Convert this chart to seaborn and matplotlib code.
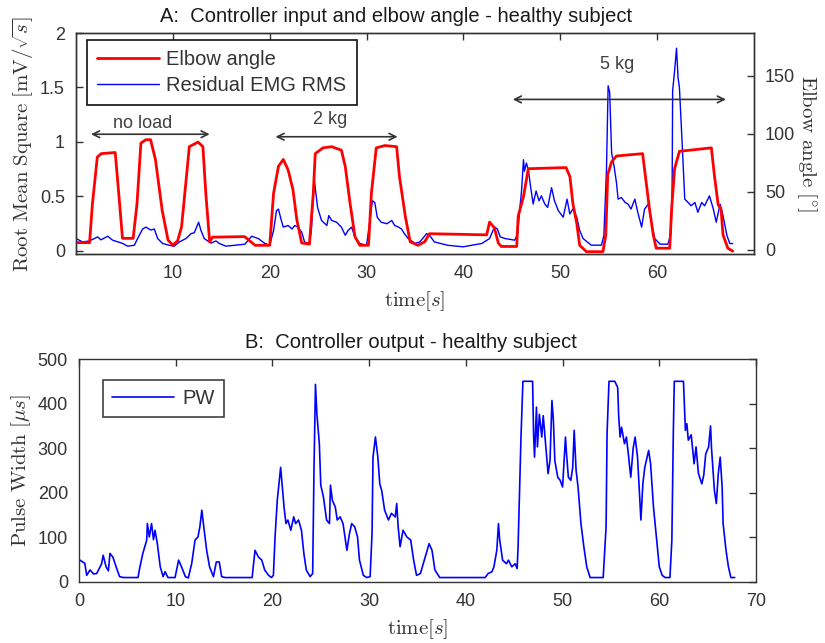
import numpy as np
import matplotlib
matplotlib.use("Agg")
import matplotlib.pyplot as plt
import seaborn as sns

# ---------------- data ----------------
t_angle = [0, 1.4, 1.7, 2.2, 2.6, 4.05, 4.4, 4.8, 5.9, 6.3, 6.7, 7.2, 7.7, 8.2, 8.9, 9.5, 10.0,
           10.5, 10.9, 11.4, 11.7, 12.6, 13.1, 13.4, 13.8, 14.1, 17.4, 18.5, 20.0, 20.4, 20.9,
           21.4, 21.9, 22.4, 22.8, 23.3, 24.1, 24.5, 24.7, 25.5, 26.4, 27.4, 27.8, 28.3, 28.8,
           29.3, 30.2, 30.5, 31.0, 31.9, 33.1, 33.4, 34.0, 34.5, 35.3, 36.0, 36.5, 42.4, 42.7,
           43.2, 43.6, 43.9, 45.5, 45.65, 46.2, 46.7, 50.6, 51.0, 51.3, 51.7, 52.0, 52.7, 54.4,
           54.7, 54.9, 55.3, 55.8, 58.5, 58.9, 59.2, 59.6, 59.9, 61.3, 61.5, 61.8, 62.3, 65.6,
           65.9, 66.3, 66.6, 66.8, 67.3, 67.8]
elbow_angle = [6.3, 6.3, 40, 80, 83, 84, 50, 10, 10, 40, 92, 95, 95, 78, 34, 8.6, 4,
               8, 20, 63, 89, 93, 89, 49, 7, 11, 11.5, 4, 4, 49, 72,
               78, 69, 52, 26, 6, 5, 49, 83, 88, 89, 86, 72, 40, 11.5,
               4, 4, 49, 88, 90, 89, 63, 29, 7, 4, 7, 14, 13, 24,
               19, 6, 3, 3, 29, 46, 70, 71, 63, 40, 23, 4, -1.5, -1.5,
               13, 65, 76, 81, 83, 56, 36, 13, 1.5, 1.5, 36, 70, 85, 88,
               65, 39, 35, 13, 1.5, -1]

t_emg = [0, 0.69, 1.38, 2.24, 2.58, 3.27, 3.78, 4.82, 5.33, 6.02, 6.36, 6.88, 7.22, 7.74, 8.08,
         8.43, 8.94, 9.63, 10.15, 10.66, 11.35, 11.87, 12.21, 12.66, 12.9, 13.24, 13.93, 14.45,
         14.79, 15.48, 17.44, 18.13, 18.82, 19.5, 20.0, 20.4, 20.7, 20.9, 21.2, 21.4, 21.9, 22.3,
         22.6, 22.9, 23.3, 23.6, 24.1, 24.3, 24.6, 24.7, 24.94, 25.35, 25.9, 26.1, 26.4, 26.9,
         27.4, 27.8, 28.1, 28.45, 28.8, 29.3, 30.0, 30.3, 30.6, 30.85, 31.1, 31.5, 32.1, 32.6,
         32.9, 33.3, 33.6, 33.9, 34.3, 35.0, 35.5, 36.2, 36.5, 37.0, 38.4, 39.97, 41.9, 42.7,
         43.2, 43.5, 43.8, 44.3, 45.3, 45.6, 45.8, 46.0, 46.2, 46.3, 46.5, 46.7, 46.95, 47.2,
         47.5, 47.8, 48.05, 48.4, 48.7, 49.1, 49.4, 49.8, 50.3, 50.7, 50.98, 51.3, 51.7, 52.0,
         52.35, 53.2, 54.25, 54.5, 54.77, 54.94, 55.1, 55.3, 55.56, 55.8, 55.97, 56.3, 56.7,
         57.0, 57.3, 57.7, 58.0, 58.4, 58.7, 59.1, 59.4, 59.75, 60.3, 61.1, 61.4, 61.54, 61.6,
         61.8, 62.0, 62.16, 62.3, 62.6, 62.85, 63.2, 63.5, 63.9, 64.2, 64.6, 64.9, 65.4, 65.8,
         66.1, 66.5, 66.8, 67.2, 67.5, 67.8]
emg_rms = [0.112, 0.081, 0.09, 0.127, 0.10, 0.133, 0.097, 0.067, 0.042, 0.05, 0.112, 0.2, 0.217,
           0.19, 0.2, 0.112, 0.067, 0.05, 0.042, 0.08, 0.112, 0.157, 0.165, 0.262, 0.187, 0.112,
           0.07, 0.09, 0.067, 0.042, 0.06, 0.133, 0.112, 0.067, 0.05, 0.187, 0.368, 0.383, 0.278,
           0.217, 0.232, 0.2, 0.232, 0.217, 0.172, 0.08, 0.067, 0.187, 0.655, 0.58, 0.398, 0.278,
           0.232, 0.323, 0.278, 0.262, 0.217, 0.142, 0.187, 0.217, 0.127, 0.067, 0.05, 0.248,
           0.459, 0.443, 0.308, 0.262, 0.248, 0.278, 0.232, 0.217, 0.2, 0.157, 0.112, 0.067,
           0.081, 0.157, 0.142, 0.081, 0.05, 0.036, 0.067, 0.112, 0.217, 0.2, 0.127, 0.112,
           0.097, 0.157, 0.368, 0.549, 0.836, 0.73, 0.806, 0.745, 0.579, 0.429, 0.549, 0.459,
           0.504, 0.429, 0.398, 0.579, 0.459, 0.368, 0.308, 0.474, 0.338, 0.383, 0.308, 0.187,
           0.112, 0.051, 0.051, 0.142, 0.745, 1.515, 1.454, 0.896, 0.775, 0.624, 0.474, 0.489,
           0.443, 0.428, 0.383, 0.474, 0.353, 0.217, 0.383, 0.428, 0.262, 0.112, 0.06, 0.06,
           0.142, 0.443, 1.47, 1.65, 1.86, 1.59, 1.5, 0.956, 0.474, 0.443, 0.413, 0.443, 0.353,
           0.443, 0.413, 0.504, 0.383, 0.262, 0.428, 0.323, 0.142, 0.066, 0.066]

t_pw = [0, 0.1, 0.6, 0.8, 1.14, 1.5, 1.83, 2.34, 2.5, 2.8, 3.04, 3.2, 3.5, 3.9, 4.2, 4.6, 6.1,
        6.3, 6.6, 7.0, 7.07, 7.27, 7.5, 7.7, 7.86, 8.1, 8.4, 8.7, 8.9, 9.2, 9.93, 10.3, 10.6,
        11.0, 11.3, 11.65, 12.0, 12.3, 12.5, 12.7, 12.9, 13.2, 13.5, 13.9, 14.2, 14.5, 14.75,
        15.1, 17.9, 18.2, 18.55, 18.9, 19.2, 19.6, 19.9, 20.1, 20.27, 20.5, 20.7, 20.85, 21.0,
        21.2, 21.4, 21.6, 21.9, 22.2, 22.4, 22.7, 23.0, 23.25, 23.5, 23.9, 24.16, 24.3, 24.45,
        24.6, 24.85, 25.0, 25.27, 25.6, 25.9, 26.0, 26.2, 26.5, 26.7, 27.0, 27.3, 27.7, 27.97,
        28.2, 28.5, 28.8, 29.0, 29.4, 29.75, 30.1, 30.3, 30.4, 30.65, 30.9, 31.1, 31.3, 31.6,
        32.0, 32.3, 32.7, 32.85, 33.0, 33.2, 33.5, 33.9, 34.3, 34.6, 34.9, 35.3, 35.8, 36.2,
        36.5, 36.8, 37.3, 42.0, 42.3, 42.7, 42.9, 43.2, 43.37, 43.5, 43.8, 44.2, 44.4, 44.75,
        45.1, 45.3, 45.4, 45.7, 45.9, 46.9, 47.0, 47.1, 47.3, 47.4, 47.6, 47.85, 48.0, 48.3,
        48.5, 48.7, 48.9, 49.05, 49.2, 49.5, 49.75, 50.0, 50.3, 50.4, 50.6, 50.85, 51.05, 51.2,
        51.4, 51.6, 51.9, 52.2, 52.5, 52.85, 54.2, 54.5, 54.6, 54.8, 55.4, 55.7, 55.8, 55.95,
        56.1, 56.4, 56.6, 56.8, 57.05, 57.3, 57.5, 57.75, 57.95, 58.1, 58.3, 58.5, 58.9, 59.1,
        59.4, 59.7, 60.0, 60.3, 60.6, 61.1, 61.3, 61.45, 61.55, 62.5, 62.7, 62.85, 63.0, 63.3,
        63.5, 63.6, 63.8, 64.05, 64.4, 64.6, 64.8, 65.1, 65.3, 65.4, 65.7, 65.9, 66.1, 66.3,
        66.5, 66.6, 66.9, 67.15, 67.4, 67.8]
pulse_width = [45, 49, 42, 15, 27, 18, 19, 41, 60, 34, 25, 64, 56, 30, 12, 10, 10,
               34, 64, 94, 131, 101, 131, 95, 116, 86, 34, 12, 23, 10, 10, 49, 34,
               12, 9, 41, 94, 101, 124, 161, 124, 71, 34, 12, 45, 45, 12,
               10, 10, 71, 56, 49, 27, 15, 10, 15, 101, 183, 224, 257, 220,
               168, 131, 139, 116, 146, 131, 139, 116, 64, 27, 12, 19, 257, 443,
               376, 310, 217, 191, 139, 131, 217, 183, 168, 139, 146, 131, 71, 109,
               131, 124, 101, 49, 15, 10, 12, 109, 280, 325, 280, 220, 205, 161,
               139, 154, 146, 176, 124, 79, 116, 101, 94, 49, 15, 19, 56, 86,
               71, 27, 10, 10, 19, 23, 34, 71, 131, 94, 49, 41, 49, 34,
               41, 30, 79, 325, 450, 450, 333, 280, 392, 303, 376, 325, 373, 295,
               243, 272, 407, 362, 272, 235, 228, 213, 325, 290, 235, 228, 257, 340,
               250, 213, 131, 79, 34, 10, 10, 124, 333, 450, 450, 436, 373, 325,
               347, 310, 325, 287, 235, 300, 325, 280, 198, 139, 220, 257, 295, 265,
               168, 101, 34, 15, 10, 10, 94, 333, 450, 450, 340, 355, 318, 330,
               287, 265, 303, 243, 220, 240, 287, 303, 350, 300, 205, 176, 243, 280,
               213, 131, 71, 34, 10, 10]

top_xticks = [10, 20, 30, 40, 50, 60]
left_yticks = [0, 0.5, 1, 1.5, 2]
left_yticklabels = ["0", "0.5", "1", "1.5", "2"]
right_yticks = [0, 50, 100, 150]
bottom_xticks = [0, 10, 20, 30, 40, 50, 60, 70]
bottom_yticks = [0, 100, 200, 300, 400, 500]

load_labels = ["no load", "2 kg", "5 kg"]
load_spans = [(1.55, 13.8), (20.6, 33.2), (45.1, 67.1)]
load_arrow_y = [1.07, 1.047, 1.39]
load_text_pos = [(6.9, 1.165), (26.2, 1.21), (55.9, 1.71)]

# ---------------- style ----------------
sns.set_theme(style="white")
plt.rcParams["font.family"] = ["Liberation Sans", "DejaVu Sans"]
plt.rcParams["mathtext.fontset"] = "cm"
plt.rcParams["axes.edgecolor"] = "#333333"
plt.rcParams["axes.linewidth"] = 1.0

TXT = "#333333"
FS = 13        # tick labels / annotations
FS_T = 14.5    # titles / legends
FS_L = 15      # axis labels

fig = plt.figure(figsize=(8.25, 6.43), dpi=100)

# ---------------- top panel ----------------
ax = fig.add_axes([76 / 825, 1 - 254 / 643, 678 / 825, 221 / 643])
ax2 = ax.twinx()

sns.lineplot(x=t_emg, y=emg_rms, ax=ax, color="#0000ff", linewidth=1.0,
             estimator=None, sort=False, label="Residual EMG RMS", legend=False)
sns.lineplot(x=t_angle, y=elbow_angle, ax=ax2, color="#ff0000", linewidth=2.0,
             estimator=None, sort=False, label="Elbow angle", legend=False)

ax.set_xlim(0, 70)
ax.set_ylim(-0.03, 2.0)
ax2.set_ylim(-3.5, 187)
ax.set_xticks(top_xticks)
ax.set_xticklabels([str(v) for v in top_xticks])
ax.set_yticks(left_yticks)
ax.set_yticklabels(left_yticklabels)
ax2.set_yticks(right_yticks)
ax2.set_yticklabels([str(v) for v in right_yticks])

ax.tick_params(direction="in", length=5, width=1, top=True, right=False,
               labelsize=FS, colors="#333333", labelcolor=TXT, pad=8)
ax2.tick_params(direction="in", length=5, width=1, labelsize=FS,
                colors="#333333", labelcolor=TXT, pad=8)

ax.set_xlabel(r"$\mathrm{time}[s]$", fontsize=FS_L, color=TXT, labelpad=5)
ax.set_ylabel(r"$\mathrm{Root\ Mean\ Square}\ [\mathrm{mV}/\sqrt{s}]$", fontsize=FS_L,
              color=TXT, labelpad=3)
ax2.set_ylabel(r"$\mathrm{Elbow\ angle}\ [^{\circ}]$", fontsize=FS_L, color=TXT,
               rotation=270, labelpad=17)
ax.set_title("A:  Controller input and elbow angle - healthy subject", fontsize=FS_T,
             color="#1a1a1a", x=0.472, pad=8)

for lab, (x0, x1), ya, (tx, ty) in zip(load_labels, load_spans, load_arrow_y, load_text_pos):
    ax.annotate("", xy=(x1, ya), xytext=(x0, ya),
                arrowprops=dict(arrowstyle="<->", color="#333333", lw=1.2,
                                shrinkA=0, shrinkB=0, mutation_scale=12))
    ax.text(tx, ty, lab, ha="center", va="center", fontsize=FS, color="#404040")

h1, l1 = ax.get_legend_handles_labels()
h2, l2 = ax2.get_legend_handles_labels()
leg = ax2.legend(h2 + h1, l2 + l1, loc="upper left", bbox_to_anchor=(0.016, 0.968),
                 borderaxespad=0, fontsize=FS_T, frameon=True, fancybox=False,
                 handlelength=3.1, borderpad=0.5, labelspacing=0.35, handletextpad=0.35)
leg.get_frame().set_edgecolor("#111111")
leg.get_frame().set_linewidth(1.2)
leg.get_frame().set_facecolor("white")
leg.get_frame().set_alpha(1)
for t in leg.get_texts():
    t.set_color(TXT)

# ---------------- bottom panel ----------------
bx = fig.add_axes([79 / 825, 1 - 582 / 643, 677 / 825, 223 / 643])
sns.lineplot(x=t_pw, y=pulse_width, ax=bx, color="#0000ff", linewidth=1.2,
             estimator=None, sort=False, label="PW", legend=False)
bx.set_xlim(0, 70)
bx.set_ylim(0, 500)
bx.set_xticks(bottom_xticks)
bx.set_yticks(bottom_yticks)
bx.tick_params(direction="in", length=5, width=1, top=True, right=True,
               labelsize=FS, colors="#333333", labelcolor=TXT, pad=8)
bx.set_xlabel(r"$\mathrm{time}[s]$", fontsize=FS_L, color=TXT, labelpad=5)
bx.set_ylabel(r"$\mathrm{Pulse\ Width}\ [\mu s]$", fontsize=FS_L, color=TXT, labelpad=3)
bx.set_title("B:  Controller output - healthy subject", fontsize=FS_T, color="#1a1a1a",
             x=0.491, pad=8)
bleg = bx.legend(loc="upper left", bbox_to_anchor=(0.035, 0.906), borderaxespad=0,
                 fontsize=FS_T, frameon=True, fancybox=False, handlelength=3.1,
                 borderpad=0.45, handletextpad=0.4)
bleg.get_frame().set_edgecolor("#111111")
bleg.get_frame().set_linewidth(1.2)
for t in bleg.get_texts():
    t.set_color(TXT)

fig.savefig("out.png", dpi=100)
